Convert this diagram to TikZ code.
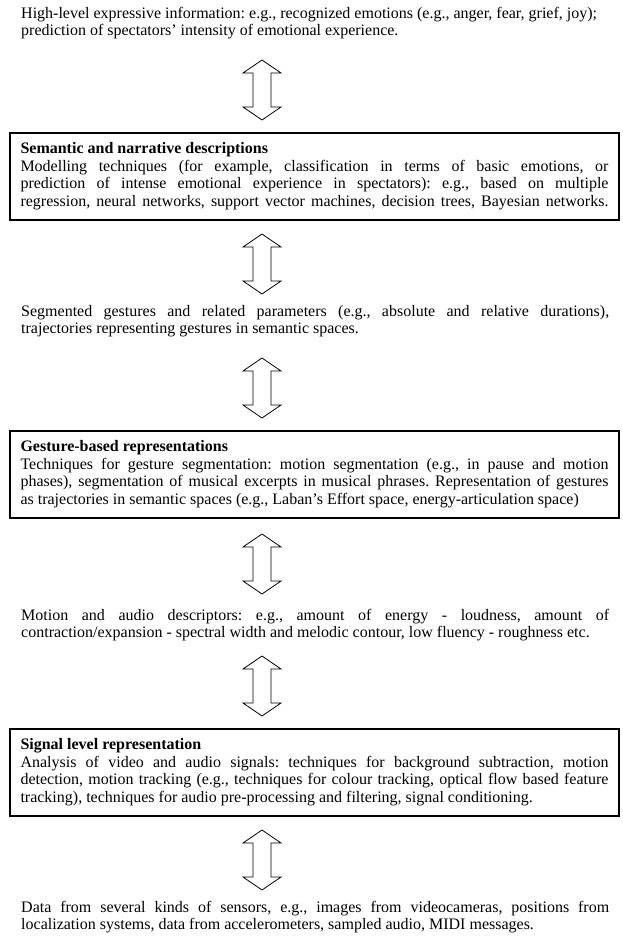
\documentclass[tikz,border=0pt]{standalone}
\usepackage{fontspec}
\setmainfont{Liberation Serif}
\usetikzlibrary{calc}
\newcommand\jline[1]{\makebox[588pt][s]{\strut #1}}
\newcommand\lline[1]{\makebox[588pt][l]{\strut #1}}
\newcommand\dblarrow[2]{\draw[arw] let \p1=(#1), \p2=(#2) in
  (\x1,\y1) -- ({\x1+19pt},{\y1-13pt}) -- ({\x1+9pt},{\y1-13pt}) -- ({\x1+9pt},{\y2+13pt})
  -- ({\x1+19pt},{\y2+13pt}) -- (\x1,\y2) -- ({\x1-19pt},{\y2+13pt}) -- ({\x1-9pt},{\y2+13pt})
  -- ({\x1-9pt},{\y1-13pt}) -- ({\x1-19pt},{\y1-13pt}) -- cycle;}
\begin{document}
\begin{tikzpicture}[x=1pt,y=-1pt,
  txt/.style={anchor=north west, inner sep=0pt, align=left, font=\fontsize{16}{17.5}\selectfont\frenchspacing},
  bx/.style={draw, line width=1.6pt, anchor=north, inner xsep=10.5pt, inner ysep=8.5pt, align=left, font=\fontsize{16}{17.5}\selectfont\frenchspacing},
  arw/.style={draw, line width=0.8pt, fill=white}]
\useasboundingbox (0,0) rectangle (622,936);
\fill[white] (0,0) rectangle (622,936);

\node[txt] (t1) at (21,6) {\lline{High-level expressive information: e.g., recognized emotions (e.g., anger, fear, grief, joy);}\\
\lline{prediction of spectators’ intensity of emotional experience.}};

\node[bx] (b1) at (314.5,132) {\lline{\textbf{Semantic and narrative descriptions}}\\
\jline{Modelling techniques (for example, classification in terms of basic emotions, or}\\
\jline{prediction of intense emotional experience in spectators): e.g., based on multiple}\\
\jline{regression, neural networks, support vector machines, decision trees, Bayesian networks.}};

\node[txt] (t2) at (21,304) {\jline{Segmented gestures and related parameters (e.g., absolute and relative durations),}\\
\lline{trajectories representing gestures in semantic spaces.}};

\node[bx] (b2) at (314.5,430) {\lline{\textbf{Gesture-based representations}}\\
\jline{Techniques for gesture segmentation: motion segmentation (e.g., in pause and motion}\\
\jline{phases), segmentation of musical excerpts in musical phrases. Representation of gestures}\\
\lline{as trajectories in semantic spaces (e.g., Laban’s Effort space, energy-articulation space)}};

\node[txt] (t3) at (21,608) {\jline{Motion and audio descriptors: e.g., amount of energy - loudness, amount of}\\
\lline{contraction/expansion - spectral width and melodic contour, low fluency - roughness etc.}};

\node[bx] (b3) at (314.5,728) {\lline{\textbf{Signal level representation}}\\
\jline{Analysis of video and audio signals: techniques for background subtraction, motion}\\
\jline{detection, motion tracking (e.g., techniques for colour tracking, optical flow based feature}\\
\lline{tracking), techniques for audio pre-processing and filtering, signal conditioning.}};

\node[txt] (t4) at (21,900) {\jline{Data from several kinds of sensors, e.g., images from videocameras, positions from}\\
\lline{localization systems, data from accelerometers, sampled audio, MIDI messages.}};

\coordinate (a1t) at (262,60);  \coordinate (a1b) at (262,120);
\coordinate (a2t) at (262,234); \coordinate (a2b) at (262,294);
\coordinate (a3t) at (262,358); \coordinate (a3b) at (262,418);
\coordinate (a4t) at (262,534); \coordinate (a4b) at (262,594);
\coordinate (a5t) at (262,656); \coordinate (a5b) at (262,716);
\coordinate (a6t) at (262,830); \coordinate (a6b) at (262,890);
\dblarrow{a1t}{a1b}
\dblarrow{a2t}{a2b}
\dblarrow{a3t}{a3b}
\dblarrow{a4t}{a4b}
\dblarrow{a5t}{a5b}
\dblarrow{a6t}{a6b}
\end{tikzpicture}
\end{document}
